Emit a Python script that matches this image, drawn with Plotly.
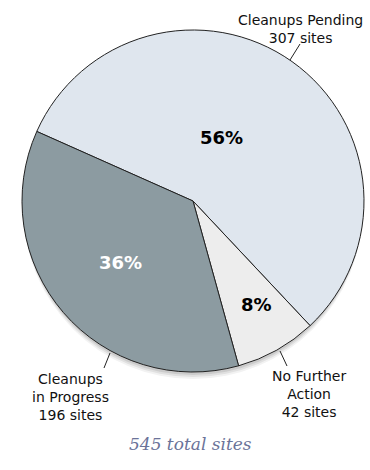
import plotly.graph_objects as go

labels = ["Cleanups Pending", "No Further Action", "Cleanups in Progress"]
sites = [307, 42, 196]
colors = ["#dfe6ee", "#ededed", "#8c9ba1"]
pct_colors = ["#000000", "#000000", "#ffffff"]
callouts = ["Cleanups Pending<br>307 sites", "No Further<br>Action<br>42 sites", "Cleanups<br>in Progress<br>196 sites"]
total_label = "545 total sites"

W, H = 370, 470
cx, cy, r = 193, 201, 171

fig = go.Figure(go.Pie(
    labels=labels,
    values=sites,
    sort=False,
    direction="clockwise",
    rotation=294,
    marker=dict(colors=colors, line=dict(color="#222222", width=1)),
    textinfo="none",
    hoverinfo="label+value+percent",
    domain=dict(x=[(cx - r) / W, (cx + r) / W], y=[(H - cy - r) / H, (H - cy + r) / H]),
    showlegend=False,
))

def px(x):
    return x / W

def py(y):
    return 1 - y / H

total = sum(sites)
pct_pos = [(221, 137), (256, 304), (120, 262)]
ann = []
for (x, y), v, c in zip(pct_pos, sites, pct_colors):
    ann.append(dict(x=px(x), y=py(y), xref="paper", yref="paper", text="<b>%d%%</b>" % round(100 * v / total),
                    showarrow=False, font=dict(family="DejaVu Sans", size=18, color=c),
                    xanchor="center", yanchor="middle"))

lab_pos = [(300, 29), (309, 394), (70, 397)]
lines = [((290, 60), (300, 44)), ((280, 351), (287, 366)), ((110, 353), (104, 368))]
for (x, y), t in zip(lab_pos, callouts):
    ann.append(dict(x=px(x), y=py(y), xref="paper", yref="paper", text=t, showarrow=False,
                    font=dict(family="DejaVu Sans", size=14, color="#111111"),
                    xanchor="center", yanchor="middle", align="center"))
ann.append(dict(x=px(190), y=py(444), xref="paper", yref="paper", text="<i>" + total_label + "</i>",
                showarrow=False, font=dict(family="DejaVu Serif", size=17, color="#6b7399"),
                xanchor="center", yanchor="middle"))

shapes = []
for k, op in [(7, 0.05), (5, 0.07), (3, 0.09)]:
    shapes.append(dict(type="circle", xref="paper", yref="paper", layer="below",
                       x0=px(cx - r + 1), x1=px(cx + r - 1), y0=py(cy + r + k), y1=py(cy - r + k),
                       fillcolor="black", opacity=op, line=dict(width=0)))
for (x0, y0), (x1, y1) in lines:
    shapes.append(dict(type="line", xref="paper", yref="paper", x0=px(x0), y0=py(y0), x1=px(x1), y1=py(y1),
                       line=dict(color="#222222", width=1)))

fig.update_layout(
    width=W, height=H,
    margin=dict(l=0, r=0, t=0, b=0),
    paper_bgcolor="white",
    annotations=ann,
    shapes=shapes,
)

fig.write_html("out.html")
